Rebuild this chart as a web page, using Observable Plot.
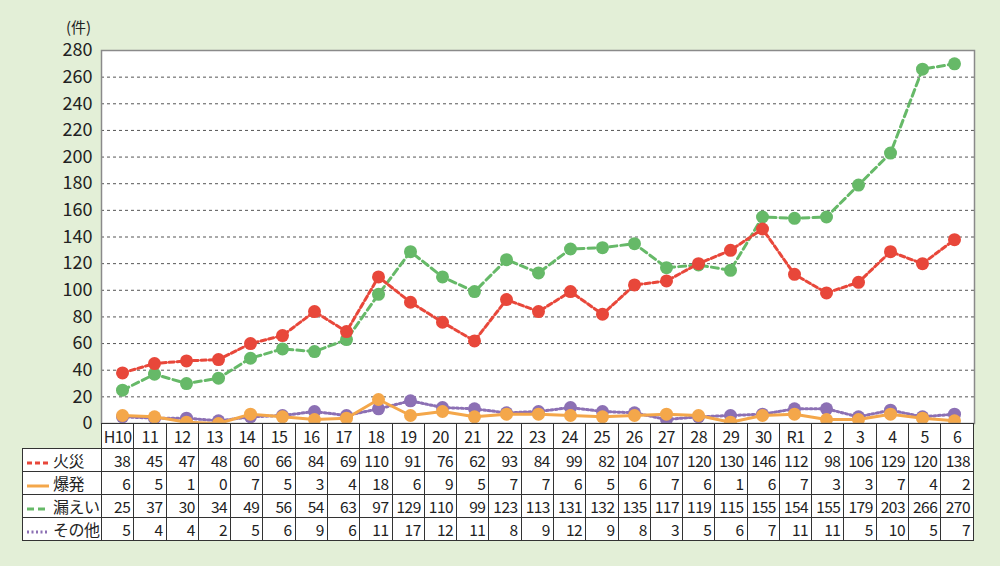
<!DOCTYPE html>
<html><head><meta charset="utf-8">
<script src="https://cdn.jsdelivr.net/npm/d3@7"></script>
<script src="https://cdn.jsdelivr.net/npm/@observablehq/plot@0.6"></script>
<style>
html,body{margin:0;padding:0;background:#e3efd7;}
#wrap{position:relative;width:1000px;height:566px;background:#e3efd7;font-family:"Noto Sans CJK JP","Noto Sans",sans-serif;color:#222;overflow:hidden;}
#unit{position:absolute;left:66px;top:19px;font-size:15px;line-height:15px;}
#chart{position:absolute;left:0;top:0;}
#tbl{position:absolute;left:22px;top:423px;border-collapse:collapse;table-layout:fixed;width:952px;font-size:15.5px;letter-spacing:-0.5px;}
#tbl td{border:1px solid #333;background:#fff;padding:0 3px 0 0;text-align:right;line-height:20px;white-space:nowrap;overflow:hidden;}
#tbl tr.head td{text-align:center;padding:0;height:24px;font-size:16px;}
#tbl tr.row td{height:22px;}
#tbl td.blank{border:none;background:transparent;}
#tbl td.lg{text-align:left;padding-left:4px;font-size:16px;}
#tbl td.lg svg{vertical-align:middle;margin-right:4px;}
</style>
</head><body>
<div id="wrap">
  <div id="chart"></div>
  <div id="unit">(件)</div>
  <table id="tbl"></table>
</div>
<script>
const years = ["H10","11","12","13","14","15","16","17","18","19","20","21","22","23","24","25","26","27","28","29","30","R1","2","3","4","5","6"];
const fire = [38,45,47,48,60,66,84,69,110,91,76,62,93,84,99,82,104,107,120,130,146,112,98,106,129,120,138];
const explosion = [6,5,1,0,7,5,3,4,18,6,9,5,7,7,6,5,6,7,6,1,6,7,3,3,7,4,2];
const leak = [25,37,30,34,49,56,54,63,97,129,110,99,123,113,131,132,135,117,119,115,155,154,155,179,203,266,270];
const other = [5,4,4,2,5,6,9,6,11,17,12,11,8,9,12,9,8,3,5,6,7,11,11,5,10,5,7];
const seriesNames = ["火災","爆発","漏えい","その他"];
const yTicks = [0,20,40,60,80,100,120,140,160,180,200,220,240,260,280];

const seriesValues = [fire, explosion, leak, other];
const styles = {
  "火災": {color:"#e8473a", dash:"5,3"},
  "爆発": {color:"#f4a74a", dash:null},
  "漏えい": {color:"#66b968", dash:"7,4"},
  "その他": {color:"#8c70b4", dash:"2,2.5"}
};
const drawOrder = ["漏えい","火災","その他","爆発"];

const tables = {};
seriesNames.forEach((n, k) => {
  tables[n] = years.map((y, i) => ({year: y, value: seriesValues[k][i], series: n}));
});

const marks = [
  Plot.frame({fill:"#fff", stroke:null}),
  Plot.ruleY(yTicks.filter(v => v > 0 && v < 280), {stroke:"#555", strokeWidth:1, strokeDasharray:"3,3"}),
  Plot.axisY({ticks: yTicks, tickSize:0, tickPadding:9, fontSize:18, label:null, fill:"#222"})
];
for (const n of drawOrder) {
  const s = styles[n];
  marks.push(Plot.line(tables[n], {x:"year", y:"value", stroke:s.color, strokeWidth:3, strokeDasharray:s.dash || undefined}));
  marks.push(Plot.dot(tables[n], {x:"year", y:"value", fill:s.color, r:6.5, stroke:null}));
}
marks.push(Plot.frame({stroke:"#8a8a8a", strokeWidth:1.5}));

const chart = Plot.plot({
  width:1000, height:424,
  marginLeft:101, marginRight:26, marginTop:50, marginBottom:1,
  style:{background:"transparent", fontFamily:"'Noto Sans CJK JP','Noto Sans',sans-serif", fontSize:"18px", overflow:"visible"},
  x:{type:"point", domain:years, padding:0.5, axis:null},
  y:{domain:[0,280], axis:null},
  marks
});
document.getElementById("chart").appendChild(chart);

// data table
const tbl = document.getElementById("tbl");
let html = '<colgroup><col style="width:79px">' + years.map(() => '<col>').join('') + '</colgroup>';
html += '<tr class="head"><td class="blank"></td>' + years.map(y => `<td>${y}</td>`).join('') + '</tr>';
seriesNames.forEach((n, k) => {
  const s = styles[n];
  const sw = `<svg width="22" height="8"><line x1="0" y1="4" x2="22" y2="4" stroke="${s.color}" stroke-width="3" ${s.dash ? `stroke-dasharray="${s.dash}"` : ''}/></svg>`;
  html += `<tr class="row"><td class="lg">${sw}${n}</td>` + seriesValues[k].map(v => `<td>${v}</td>`).join('') + '</tr>';
});
tbl.innerHTML = html;
</script>
</body></html>
